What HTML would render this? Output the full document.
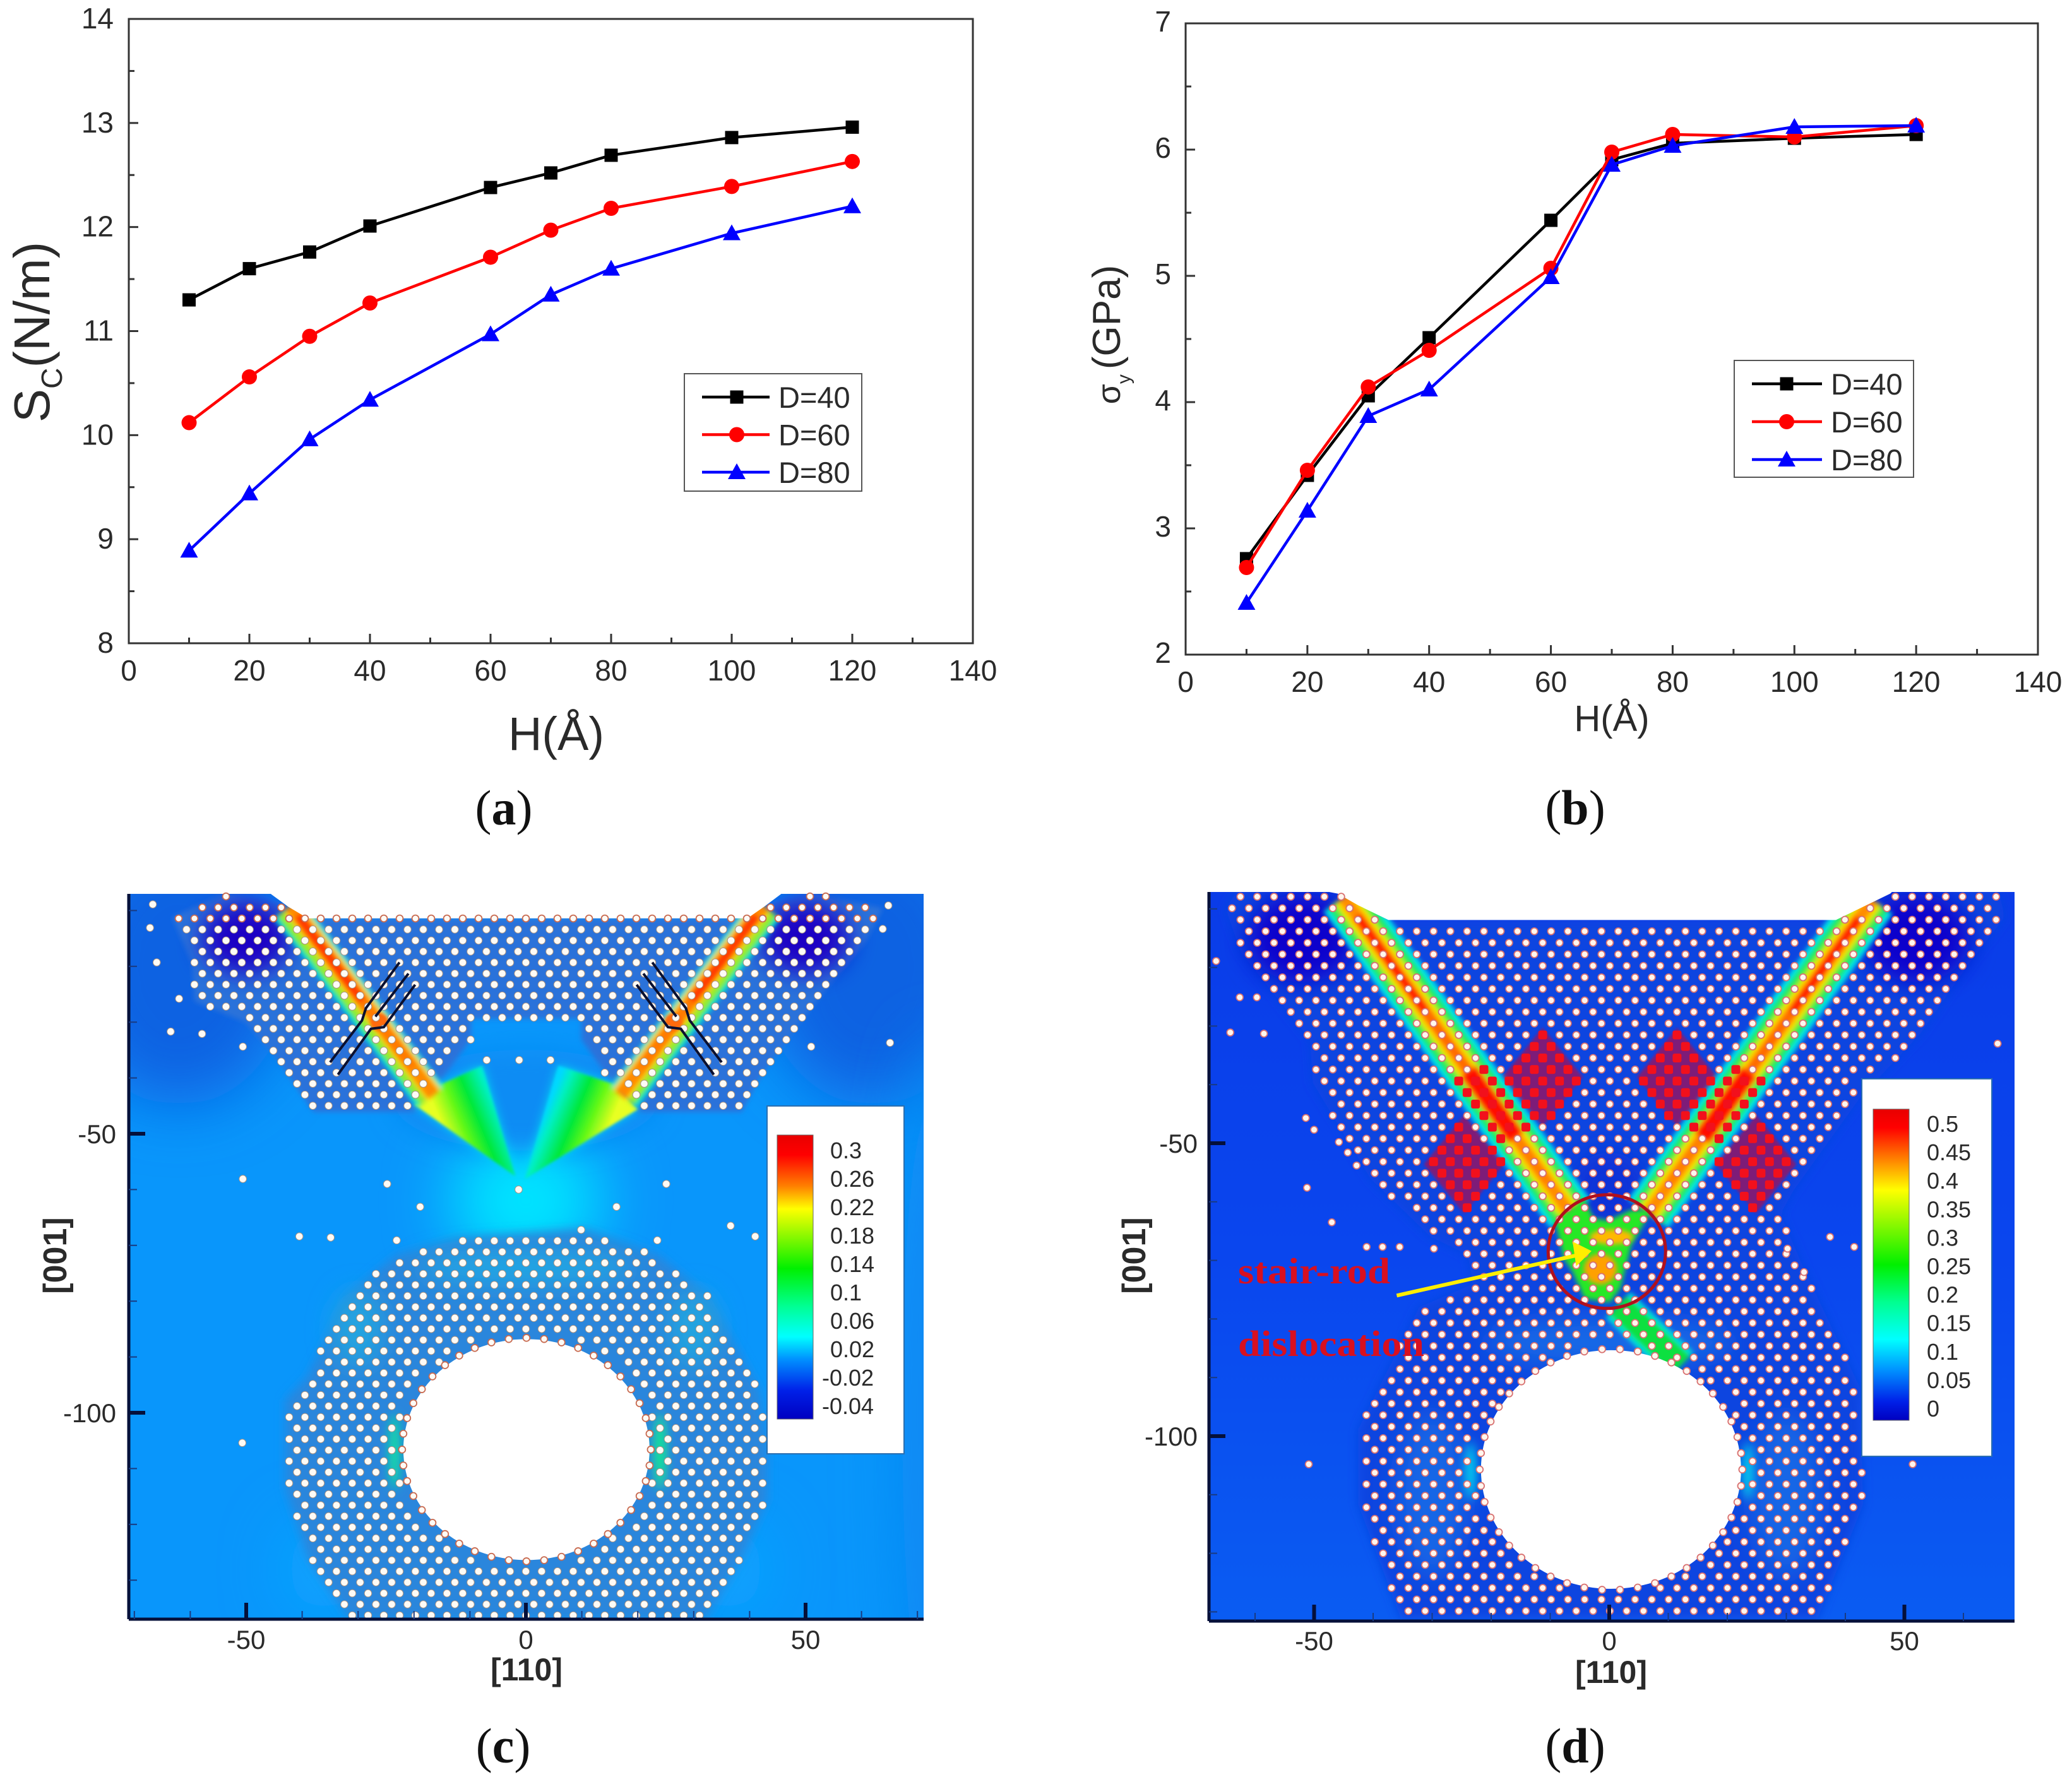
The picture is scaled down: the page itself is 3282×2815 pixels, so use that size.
<!DOCTYPE html>
<html lang="en">
<head>
<meta charset="utf-8">
<title>Four panel figure: critical stress, yield stress and strain contour maps</title>
<style>
html,body{margin:0;padding:0;background:#fff}
svg{display:block}
text{font-family:"Liberation Sans",sans-serif;fill:#2a2a2a}
.serif{font-family:"Liberation Serif",serif;fill:#111}
.bold{font-weight:bold}
</style>
</head>
<body>
<svg id="fig" xmlns="http://www.w3.org/2000/svg" width="3282" height="2815" viewBox="0 0 3282 2815">
<defs>
<filter id="b2" filterUnits="userSpaceOnUse" x="0" y="1300" width="3282" height="1400"><feGaussianBlur stdDeviation="2"/></filter>
<filter id="b4" filterUnits="userSpaceOnUse" x="0" y="1300" width="3282" height="1400"><feGaussianBlur stdDeviation="4"/></filter>
<filter id="b8" filterUnits="userSpaceOnUse" x="0" y="1300" width="3282" height="1400"><feGaussianBlur stdDeviation="8"/></filter>
<filter id="b20" filterUnits="userSpaceOnUse" x="0" y="1300" width="3282" height="1400"><feGaussianBlur stdDeviation="20"/></filter>
<filter id="b50" filterUnits="userSpaceOnUse" x="0" y="1300" width="3282" height="1400"><feGaussianBlur stdDeviation="50"/></filter>
<clipPath id="clipC"><rect x="204" y="1416" width="1259" height="1149"/></clipPath>
<clipPath id="clipD"><rect x="1915" y="1413" width="1276" height="1155"/></clipPath>
<linearGradient id="bgD" x1="0" y1="0" x2="0" y2="1">
<stop offset="0" stop-color="#0a3ce8"/><stop offset=".5" stop-color="#0a46ee"/><stop offset="1" stop-color="#0a5cf2"/>
</linearGradient>
<linearGradient id="cbC" x1="0" y1="0" x2="0" y2="1">
<stop offset="0" stop-color="#e80000"/><stop offset=".07" stop-color="#ff0000"/><stop offset=".18" stop-color="#ff8000"/><stop offset=".26" stop-color="#ffff00"/><stop offset=".47" stop-color="#00f000"/><stop offset=".60" stop-color="#00ff90"/><stop offset=".71" stop-color="#00ffff"/><stop offset=".79" stop-color="#0090ff"/><stop offset=".90" stop-color="#0020e8"/><stop offset="1" stop-color="#0000c0"/>
</linearGradient>
<linearGradient id="cbD" x1="0" y1="0" x2="0" y2="1">
<stop offset="0" stop-color="#e80000"/><stop offset=".06" stop-color="#ff0000"/><stop offset=".16" stop-color="#ff8000"/><stop offset=".26" stop-color="#ffff00"/><stop offset=".50" stop-color="#00f000"/><stop offset=".62" stop-color="#00ff90"/><stop offset=".74" stop-color="#00ffff"/><stop offset=".84" stop-color="#0090ff"/><stop offset=".94" stop-color="#0020e8"/><stop offset="1" stop-color="#0000c0"/>
</linearGradient>
<linearGradient id="fanL" gradientUnits="userSpaceOnUse" x1="680" y1="1735" x2="775" y2="1695">
<stop offset="0" stop-color="#e8ff20"/><stop offset=".3" stop-color="#60f818"/><stop offset=".55" stop-color="#00e838"/><stop offset=".85" stop-color="#00f0c0"/><stop offset="1" stop-color="#00d8ff"/>
</linearGradient>
<linearGradient id="fanR" gradientUnits="userSpaceOnUse" x1="986" y1="1735" x2="891" y2="1695">
<stop offset="0" stop-color="#e8ff20"/><stop offset=".3" stop-color="#60f818"/><stop offset=".55" stop-color="#00e838"/><stop offset=".85" stop-color="#00f0c0"/><stop offset="1" stop-color="#00d8ff"/>
</linearGradient>
</defs>

<rect x="0" y="0" width="3282" height="2815" fill="#fff"/>

<g id="panelA"></g>
<g id="panelB"></g>
<g id="panelC"></g>
<g id="panelD"></g>

<g>
<text transform="translate(78,526) rotate(-90)" text-anchor="middle" font-size="80">S<tspan font-size="46" dy="20">C</tspan><tspan dy="-20">(N/m)</tspan></text>
<text x="881" y="1188" text-anchor="middle" font-size="74">H(Å)</text>
<text transform="translate(1774,530) rotate(-90)" text-anchor="middle" font-size="62"><tspan font-size="52">σ</tspan><tspan font-size="30" dy="16">y</tspan><tspan dy="-16" dx="8">(GPa)</tspan></text>
<text x="2553" y="1158" text-anchor="middle" font-size="58">H(Å)</text>
<text class="bold" x="834" y="2662" text-anchor="middle" font-size="50">[110]</text>
<text class="bold" transform="translate(105,1989) rotate(-90)" text-anchor="middle" font-size="52">[001]</text>
<text class="bold" x="2552" y="2666" text-anchor="middle" font-size="50">[110]</text>
<text class="bold" transform="translate(1814,1989) rotate(-90)" text-anchor="middle" font-size="52">[001]</text>
</g>

<g>
<text class="serif" x="798" y="1306" text-anchor="middle" font-size="78">(<tspan class="bold">a</tspan>)</text>
<text class="serif" x="2495" y="1306" text-anchor="middle" font-size="78">(<tspan class="bold">b</tspan>)</text>
<text class="serif" x="797" y="2792" text-anchor="middle" font-size="78">(<tspan class="bold">c</tspan>)</text>
<text class="serif" x="2495" y="2792" text-anchor="middle" font-size="78">(<tspan class="bold">d</tspan>)</text>
</g>
</svg>

<script>
// ---------- line chart data ----------
const thicknessH = [10, 20, 30, 40, 60, 70, 80, 100, 120];
const scD40 = [11.3, 11.6, 11.76, 12.01, 12.38, 12.52, 12.69, 12.86, 12.96];
const scD60 = [10.12, 10.56, 10.95, 11.27, 11.71, 11.97, 12.18, 12.39, 12.63];
const scD80 = [8.89, 9.44, 9.96, 10.34, 10.97, 11.35, 11.6, 11.94, 12.2];
const sigmaD40 = [2.76, 3.42, 4.05, 4.51, 5.44, 5.92, 6.05, 6.09, 6.12];
const sigmaD60 = [2.69, 3.46, 4.12, 4.41, 5.06, 5.98, 6.12, 6.10, 6.19];
const sigmaD80 = [2.41, 3.14, 3.89, 4.10, 4.99, 5.88, 6.03, 6.18, 6.19];
const xTickLabels = [0, 20, 40, 60, 80, 100, 120, 140];
const xMinorTicks = [10, 30, 50, 70, 90, 110, 130];
const scTickLabels = [8, 9, 10, 11, 12, 13, 14];
const sigmaTickLabels = [2, 3, 4, 5, 6, 7];
const legendLabels = ['D=40', 'D=60', 'D=80'];
// ---------- colour bar labels ----------
const colorbarLabelsC = ['0.3', '0.26', '0.22', '0.18', '0.14', '0.1', '0.06', '0.02', '-0.02', '-0.04'];
const colorbarLabelsD = ['0.5', '0.45', '0.4', '0.35', '0.3', '0.25', '0.2', '0.15', '0.1', '0.05', '0'];
// ---------- contour map axis ticks (angstrom) ----------
const contourXMajor = [-50, 0, 50];
const contourYMajorC = [-50, -100];
const contourXMinor = [-70, -60, -40, -30, -20, -10, 10, 20, 30, 40, 60, 70];
const contourYMinor = [-10, -20, -30, -40, -60, -70, -80, -90, -110, -120, -130];
// ---------- atom regions and isolated atoms in [110],[001] coordinates ----------
const atomRegionTopC = [[-63.2,-11.2],[-54.1,-7],[-42.5,-9.3],[-39,-11.4],[39.6,-11.4],[42.6,-9.3],[51.7,-7],[63.8,-9.6],[60.8,-15.4],[54.7,-22.7],[48.2,-31],[41.6,-40.4],[38.6,-46.1],[20,-46.1],[15.4,-40.9],[9.9,-33.1],[9.9,-29.4],[-9.8,-29.4],[-9.8,-33.1],[-16.8,-42.5],[-19.9,-46.1],[-38,-46.1],[-45.1,-35.7],[-50.1,-30],[-59.2,-26.3],[-59.7,-19.5]];
const atomRegionRingC = [[-11.8,-68.6],[10.4,-67],[23.5,-71.7],[32.6,-79],[41.6,-95.7],[43.1,-106.1],[43.1,-115.5],[38.6,-125.9],[32.1,-136.9],[-31.5,-136.9],[-39,-125.9],[-43,-113.4],[-43,-97.8],[-39,-93.6],[-32,-79],[-22.9,-71.7]];
const isolatedAtomsC = [[-7,-36.8],[-1.2,-36.8],[4.4,-36.8],[-50.6,-34.4],[-63.5,-31.7],[-57.9,-32.1],[-62,-25.8],[-66,-19.3],[-66.7,-8.9],[-67.2,-13.1],[51,-34.4],[65.1,-33.7],[64.8,-9.1],[63.8,-13.3],[-50.6,-58.1],[-24.8,-59],[-1.3,-60],[-18.9,-63.1],[25.1,-59],[16.2,-63.1],[-40.5,-68.4],[-34.9,-68.6],[-23.1,-69.1],[23.5,-69.1],[36.6,-66.5],[41,-68.4],[-50.7,-105.4]];
const atomRegionD = [[-65,-9.9],[-63,-7],[-46,-7],[-42.5,-9.4],[-37.4,-11.9],[38.4,-11.9],[43.5,-9.4],[47.6,-7],[66,-7],[67,-11.4],[60.9,-19.4],[52.7,-31.3],[42.5,-42.2],[31.2,-58.1],[29,-62.1],[32.8,-71],[42.5,-91.8],[43,-111.7],[35.3,-131.1],[-35.3,-131.1],[-42.5,-111.7],[-42.5,-98.8],[-32.2,-78],[-23,-74],[-24,-69],[-30.2,-66],[-40.4,-56.1],[-50.2,-39.7],[-50.7,-32.3],[-62.4,-17.4]];
const isolatedAtomsD = [[-66.6,-18.9],[-62.6,-25.1],[-59.7,-25.1],[-64.2,-31.1],[-58.5,-31.3],[-51.4,-45.7],[-50,-47.7],[-45.8,-49.8],[-44.3,-51.6],[-42.8,-53.8],[-51.2,-57.6],[-47,-63.5],[-41.1,-67.7],[-38.4,-67.7],[-35.5,-67.7],[-29.7,-68],[37.4,-66],[41.5,-67.7],[30.2,-68],[33,-72],[65.8,-33],[-50.9,-104.8],[51.4,-104.8]];
const redDiamondsD = [[-11.3,-38.7],[-24.6,-53.6],[11.5,-38.7],[24.9,-53.6]];
const dislocationLeftC = [[[-22.6,-19.3],[-28.6,-27.5],[-29.3,-29.7],[-35,-37.2]],[[-21,-21.3],[-26.9,-29]],[[-19.8,-23.3],[-25.4,-30.9],[-27.7,-31.2],[-33.6,-39.4]]];

const NS = 'http://www.w3.org/2000/svg';
function mk(tag, attrs, parent) {
  const n = document.createElementNS(NS, tag);
  for (const k in attrs) n.setAttribute(k, attrs[k]);
  if (parent) parent.appendChild(n);
  return n;
}

// ---------- line charts ----------
function drawMarker(g, kind, x, y, color) {
  if (kind === 'square') {
    const m = mk('rect', {x: x - 10.5, y: y - 10.5, width: 21, height: 21, fill: color}, g);
    
    
  } else if (kind === 'circle') {
    const m = mk('circle', {cx: x, cy: y, r: 12, fill: color}, g);
    
    
  } else {
    const m = mk('polygon', {points: (x) + ',' + (y - 14) + ' ' + (x + 14) + ',' + (y + 11) + ' ' + (x - 14) + ',' + (y + 11), fill: color}, g);
    
    
  }
}
function drawLineChart(g, box, yTicks, series, legend, labelX, tickBaseX, yLabelShift) {
  const sx = v => box.l + (v - 0) / 140 * (box.r - box.l);
  const yMin = yTicks[0], yMax = yTicks[yTicks.length - 1];
  const sy = v => box.b - (v - yMin) / (yMax - yMin) * (box.b - box.t);
  const frame = mk('rect', {x: box.l, y: box.t, width: box.r - box.l, height: box.b - box.t, fill: 'none', stroke: '#333', 'stroke-width': 3}, g);
  
  
  xTickLabels.forEach(v => {
    const t = mk('line', {x1: sx(v), x2: sx(v), y1: box.b, y2: box.b - 15, stroke: '#333', 'stroke-width': 3}, g);
    
    
    const l = mk('text', {x: sx(v), y: labelX, 'text-anchor': 'middle', 'font-size': 46}, g);
    
    
    l.textContent = v;
  });
  xMinorTicks.forEach(v => {
    const t = mk('line', {x1: sx(v), x2: sx(v), y1: box.b, y2: box.b - 9, stroke: '#333', 'stroke-width': 3}, g);
    
    
  });
  yTicks.forEach((v, i) => {
    const t = mk('line', {x1: box.l, x2: box.l + 15, y1: sy(v), y2: sy(v), stroke: '#333', 'stroke-width': 3}, g);
    
    
    const l = mk('text', {x: tickBaseX, y: sy(v) + yLabelShift, 'text-anchor': 'end', 'font-size': 46}, g);
    
    
    l.textContent = v;
    if (i < yTicks.length - 1) {
      const m = mk('line', {x1: box.l, x2: box.l + 9, y1: sy(v + 0.5), y2: sy(v + 0.5), stroke: '#333', 'stroke-width': 3}, g);
      
      
    }
  });
  series.forEach(s => {
    const sg = mk('g', {}, g);
    
    
    const pts = thicknessH.map((h, i) => sx(h) + ',' + sy(s.values[i])).join(' ');
    const line = mk('polyline', {points: pts, fill: 'none', stroke: s.color, 'stroke-width': 4.5}, sg);
    
    
    thicknessH.forEach((h, i) => drawMarker(sg, s.kind, sx(h), sy(s.values[i]), s.color));
  });
  const lg = mk('g', {}, g);
  
  
  const lb = mk('rect', {x: legend.x, y: legend.y, width: legend.w, height: legend.h, fill: '#fff', stroke: '#555', 'stroke-width': 2}, lg);
  
  
  series.forEach((s, i) => {
    const y = legend.firstRow + i * legend.step;
    const ll = mk('line', {x1: legend.x + 28, x2: legend.x + 139 - legend.textPull, y1: y, y2: y, stroke: s.color, 'stroke-width': 4.5}, lg);
    
    
    drawMarker(lg, s.kind, legend.x + 83, y, s.color);
    const lt = mk('text', {x: legend.x + 153 - legend.textPull, y: y + 17, 'font-size': 47}, lg);
    
    
    lt.textContent = legendLabels[i];
  });
}
drawLineChart(document.getElementById('panelA'),
  {l: 204, r: 1541, t: 30, b: 1019}, scTickLabels,
  [{name: 'd40', values: scD40, color: '#000', kind: 'square'},
   {name: 'd60', values: scD60, color: '#f00', kind: 'circle'},
   {name: 'd80', values: scD80, color: '#00f', kind: 'triangle'}],
  {x: 1084, y: 592, w: 281, h: 186, firstRow: 629, step: 59.5, textPull: 4}, 1078, 180, 15);
drawLineChart(document.getElementById('panelB'),
  {l: 1878, r: 3228, t: 37, b: 1037}, sigmaTickLabels,
  [{name: 'd40', values: sigmaD40, color: '#000', kind: 'square'},
   {name: 'd60', values: sigmaD60, color: '#f00', kind: 'circle'},
   {name: 'd80', values: sigmaD80, color: '#00f', kind: 'triangle'}],
  {x: 2747, y: 571, w: 284, h: 185, firstRow: 608, step: 60, textPull: 0}, 1096, 1855, 13);

// ---------- contour helpers ----------
function inPoly(p, poly) {
  let c = false;
  for (let i = 0, j = poly.length - 1; i < poly.length; j = i++) {
    const a = poly[i], b = poly[j];
    if ((a[1] > p[1]) !== (b[1] > p[1]) && p[0] < (b[0] - a[0]) * (p[1] - a[1]) / (b[1] - a[1]) + a[0]) c = !c;
  }
  return c;
}
function polyPoints(poly, X, Y) { return poly.map(p => X(p[0]) + ',' + Y(p[1])).join(' '); }
function blob(g, X, Y, u, v, rx, ry, fill, filter, name) {
  const e = mk('ellipse', {cx: X(u), cy: Y(v), rx: rx, ry: ry, fill: fill, filter: 'url(#' + filter + ')'}, g);
  
  
  return e;
}
// one stripe of a shear band: stacked colour strokes, blurred
function band(g, X, Y, a, b, layers, name) {
  const grp = mk('g', {filter: 'url(#b4)'}, g);
  
  
  const x1 = X(a[0]), y1 = Y(a[1]), x2 = X(b[0]), y2 = Y(b[1]);
  const len = Math.hypot(x2 - x1, y2 - y1), nx = -(y2 - y1) / len, ny = (x2 - x1) / len;
  layers.forEach(l => {
    const t0 = l.from === undefined ? 0 : l.from, t1 = l.to === undefined ? 1 : l.to, off = l.off || 0;
    const ln = mk('line', {x1: x1 + (x2 - x1) * t0 + nx * off, y1: y1 + (y2 - y1) * t0 + ny * off, x2: x1 + (x2 - x1) * t1 + nx * off, y2: y1 + (y2 - y1) * t1 + ny * off, stroke: l.color, 'stroke-width': l.w}, grp);
    
    
  });
}
function contourAxes(g, box, X, Y, yMajor, tickX, labelBase) {
  const frameL = mk('line', {x1: box.l, x2: box.l, y1: box.t, y2: box.b, stroke: '#05103a', 'stroke-width': 5}, g);
  
  
  const frameB = mk('line', {x1: box.l, x2: box.r, y1: box.b, y2: box.b, stroke: '#05103a', 'stroke-width': 5}, g);
  
  
  contourXMajor.forEach(v => {
    const t = mk('line', {x1: X(v), x2: X(v), y1: box.b, y2: box.b - 26, stroke: '#05103a', 'stroke-width': 6}, g);
    
    
    const l = mk('text', {x: X(v), y: labelBase, 'text-anchor': 'middle', 'font-size': 42}, g);
    
    
    l.textContent = v;
  });
  contourXMinor.filter(v => X(v) > box.l + 2 && X(v) < box.r - 2).forEach(v => {
    const t = mk('line', {x1: X(v), x2: X(v), y1: box.b, y2: box.b - 13, stroke: '#1a3a80', 'stroke-width': 2}, g);
    
    
  });
  yMajor.forEach(v => {
    const t = mk('line', {x1: box.l, x2: box.l + 26, y1: Y(v), y2: Y(v), stroke: '#05103a', 'stroke-width': 6}, g);
    
    
    const l = mk('text', {x: tickX, y: Y(v) + 15, 'text-anchor': 'end', 'font-size': 42}, g);
    
    
    l.textContent = v;
  });
  contourYMinor.forEach(v => {
    const t = mk('line', {x1: box.l, x2: box.l + 13, y1: Y(v), y2: Y(v), stroke: '#1a3a80', 'stroke-width': 2}, g);
    
    
  });
}
function colorbar(g, panel, bar, grad, labels, baseY, step, xPos, xNeg) {
  const p = mk('rect', {x: panel.x, y: panel.y, width: panel.w, height: panel.h, fill: '#fff', stroke: '#2b6fb0', 'stroke-width': 2}, g);
  
  
  const b = mk('rect', {x: bar.x, y: bar.y, width: bar.w, height: bar.h, fill: 'url(#' + grad + ')', stroke: '#666', 'stroke-width': 1}, g);
  
  
  labels.forEach((s, i) => {
    const t = mk('text', {x: s.charAt(0) === '-' ? xNeg : xPos, y: baseY + i * step, 'font-size': 36}, g);
    
    
    t.textContent = s;
  });
}

// ---------- panel C ----------
(function () {
  const g = document.getElementById('panelC');
  const X = u => 833 + 8.86 * u, Y = v => 1354 - 8.84 * v;
  const field = mk('g', {'clip-path': 'url(#clipC)'}, g);
  
  
  const bg = mk('rect', {x: 204, y: 1416, width: 1259, height: 1149, fill: '#0996fb'}, field);
  
  
  blob(field, X, Y, -62, -20, 180, 220, '#0a62e2', 'b50', 'left-corner-shade');
  blob(field, X, Y, 62, -20, 180, 220, '#0a62e2', 'b50', 'right-corner-shade');
  blob(field, X, Y, 74, -100, 60, 600, '#0a86f2', 'b50', 'right-edge-shade');
  blob(field, X, Y, -36, -128, 60, 70, '#0ea8ff', 'b50', 'lower-left-glow');
  blob(field, X, Y, 36, -128, 60, 70, '#0ea8ff', 'b50', 'lower-right-glow');
  blob(field, X, Y, 0, -62, 120, 110, '#00e4ff', 'b50', 'centre-glow');
  blob(field, X, Y, 0, -44, 210, 80, '#0a8cf4', 'b20', 'upper-gap-shade');
  const topReg = mk('polygon', {points: polyPoints(atomRegionTopC, X, Y), fill: '#2c72da', filter: 'url(#b4)'}, field);
  
  
  const ringReg = mk('polygon', {points: polyPoints(atomRegionRingC, X, Y), fill: '#2c86dc', filter: 'url(#b8)'}, field);
  
  
  blob(field, X, Y, 0, -74, 170, 26, '#22a8e4', 'b20', 'ring-top-tint');
  blob(field, X, Y, -30, -85, 40, 60, '#22a4e0', 'b20', 'ring-left-tint');
  blob(field, X, Y, 30, -85, 40, 60, '#22a4e0', 'b20', 'ring-right-tint');
  blob(field, X, Y, -50, -15, 70, 55, '#1c00c4', 'b20', 'left-compression-spot');
  blob(field, X, Y, 50, -15, 70, 55, '#1c00c4', 'b20', 'right-compression-spot');
  blob(field, X, Y, -23.5, -107, 8, 60, '#10e8a0', 'b8', 'hole-left-strain');
  blob(field, X, Y, 24, -107, 9, 60, '#18f090', 'b8', 'hole-right-strain');
  [[[-19.9,-44.8],[-16.3,-41.7],[-7.8,-37.8],[-1.9,-57.6]], [[20,-45.6],[15.9,-41.2],[5.8,-37.8],[-0.2,-58.1]]].forEach((f, i) => {
    const under = mk('polygon', {points: polyPoints(f, X, Y), fill: '#00d8f4', filter: 'url(#b8)'}, field);
    
    
    const fan = mk('polygon', {points: polyPoints(f, X, Y), fill: i ? 'url(#fanR)' : 'url(#fanL)', filter: 'url(#b2)'}, field);
    
    
  });
  const layersC = s => [
    {color: '#00e8e0', w: 54},
    {color: '#10e840', w: 44},
    {color: '#ffe400', w: 30, off: s * 6},
    {color: '#c8f010', w: 4, off: -s * 15},
    {color: '#ff8a00', w: 22, off: s * 6},
    {color: '#ff3a00', w: 16, off: s * 6, from: .05, to: .5},
    {color: '#ff7a00', w: 18, off: s * 6, from: .5, to: .85}
  ];
  band(field, X, Y, [-42.6, -9.6], [-17, -43.5], layersC(-1), 'left-shear-band');
  band(field, X, Y, [43, -9.6], [17.4, -43.5], layersC(1), 'right-shear-band');
  blob(field, X, Y, -26.2, -30, 14, 14, '#ff6a10', 'b2', 'left-junction-spot');
  blob(field, X, Y, 26.4, -30, 14, 14, '#ff6a10', 'b2', 'right-junction-spot');
  const white = mk('polygon', {points: polyPoints([[-47,-6],[-42.5,-9.3],[-39,-11.4],[39.6,-11.4],[42.6,-9.3],[47,-6]], X, Y), fill: '#fff'}, field);
  
  
  const hole = mk('ellipse', {cx: X(0.1), cy: Y(-106.6), rx: 195, ry: 175, fill: '#fff'}, field);
  
  
  const atoms = mk('g', {}, g);
  
  
  function atom(x, y, rim) {
    const a = mk('circle', {cx: x, cy: y, r: rim ? 5.4 : 5.8, fill: '#fdfbf6', stroke: rim ? '#c86a50' : '#a89080', 'stroke-width': rim ? 1.8 : 1}, atoms);
    
    
  }
  const outside = (u, v) => Math.hypot((X(u) - X(0.1)) / 197, (Y(v) - Y(-106.6)) / 177) > 1.05;
  for (let k = -2; k <= 18; k++) {
    const y = 1455 + 17.45 * k;
    for (let j = -30; j <= 30; j++) {
      const x = 833 + 25 * j + (Math.abs(k) % 2 ? 12.5 : 0), u = (x - 833) / 8.86, v = (1354 - y) / 8.84;
      if (inPoly([u, v], atomRegionTopC)) atom(x, y, k <= 0);
    }
  }
  for (let k = 0; k <= 36; k++) {
    const y = 2559 - 17.45 * k;
    for (let j = -20; j <= 20; j++) {
      const x = 833 + 25 * j + (k % 2 ? 12.5 : 0), u = (x - 833) / 8.86, v = (1354 - y) / 8.84;
      if (inPoly([u, v], atomRegionRingC) && outside(u, v) && x < 1212) atom(x, y, false);
    }
  }
  for (let i = 0; i < 44; i++) {
    const th = i / 44 * Math.PI * 2;
    atom(X(0.1) + 197 * Math.cos(th), Y(-106.6) + 177 * Math.sin(th), true);
  }
  isolatedAtomsC.forEach(p => atom(X(p[0]), Y(p[1]), false));
  dislocationLeftC.forEach(line => {
    [1, -1].forEach(s => {
      const pl = mk('polyline', {points: line.map(p => X(s * p[0]) + ',' + Y(p[1])).join(' '), fill: 'none', stroke: '#0a1030', 'stroke-width': 4}, g);
      
      
    });
  });
  colorbar(g, {x: 1215, y: 1752, w: 217, h: 551}, {x: 1231, y: 1798, w: 57, h: 450}, 'cbC', colorbarLabelsC, 1835, 45, 1315, 1302);
  contourAxes(g, {l: 204, r: 1463, t: 1416, b: 2565}, X, Y, contourYMajorC, 184, 2612);
})();

// ---------- panel D ----------
(function () {
  const g = document.getElementById('panelD');
  const X = u => 2549 + 9.35 * u, Y = v => 1347 - 9.28 * v;
  const field = mk('g', {'clip-path': 'url(#clipD)'}, g);
  
  
  const bg = mk('rect', {x: 1915, y: 1413, width: 1276, height: 1155, fill: 'url(#bgD)'}, field);
  
  
  const reg = mk('polygon', {points: polyPoints(atomRegionD, X, Y), fill: '#0d44e0', filter: 'url(#b8)'}, field);
  
  
  blob(field, X, Y, -30, -110, 55, 130, '#1466e6', 'b20', 'ring-left-tint');
  blob(field, X, Y, 30, -110, 55, 130, '#1466e6', 'b20', 'ring-right-tint');
  blob(field, X, Y, 0, -84, 200, 40, '#1268e6', 'b20', 'ring-top-tint');
  blob(field, X, Y, -52, -15, 85, 70, '#0e00cc', 'b20', 'left-compression-spot');
  blob(field, X, Y, 52, -15, 85, 70, '#0e00cc', 'b20', 'right-compression-spot');
  blob(field, X, Y, 0, -58, 60, 60, '#0830d8', 'b20', 'junction-top-shade');
  blob(field, X, Y, -23.5, -106, 8, 45, '#00e0f0', 'b8', 'hole-left-strain');
  blob(field, X, Y, 23.5, -106, 8, 45, '#00e0f0', 'b8', 'hole-right-strain');
  redDiamondsD.forEach(c => {
    const d = mk('polygon', {points: polyPoints([[c[0] - 6.8, c[1]], [c[0], c[1] + 8.4], [c[0] + 6.8, c[1]], [c[0], c[1] - 8.4]], X, Y), fill: '#7e1c78', filter: 'url(#b2)'}, field);
    
    
  });
  const layersD = [
    {color: '#00e8ee', w: 78},
    {color: '#12e85c', w: 62},
    {color: '#7cf010', w: 42},
    {color: '#ffe400', w: 32},
    {color: '#ff8c00', w: 20},
    {color: '#ff2400', w: 16, from: .06, to: .36},
    {color: '#ff6a00', w: 16, from: .36, to: .55},
    {color: '#ff1000', w: 30, from: .55, to: .76},
    {color: '#ff8000', w: 18, from: .76, to: .9}
  ];
  const bandStartL = [-45, -8], bandEndL = [-6.6, -62], bandStartR = [44.6, -8.4], bandEndR = [6.6, -62];
  band(field, X, Y, bandStartL, bandEndL, layersD, 'left-shear-band');
  band(field, X, Y, bandStartR, bandEndR, layersD, 'right-shear-band');
  band(field, X, Y, [1.5, -77.6], [12.2, -87.9], [{color: '#00e8e0', w: 56}, {color: '#10e040', w: 42}], 'lower-shear-band');
  const junction = mk('polygon', {points: polyPoints([[-9.2,-63.2],[-4.2,-59.6],[-2.7,-62.8],[-0.2,-63.2],[3.7,-61.4],[7.2,-61.4],[3.7,-67.5],[1.9,-74.7],[0.1,-77.2],[-4.2,-76.5],[-6.3,-71.8],[-7.7,-69.7]], X, Y), fill: '#28e828', filter: 'url(#b4)'}, field);
  
  
  blob(field, X, Y, 0.4, -66, 34, 12, '#ffb800', 'b4', 'junction-hot-spot-upper');
  blob(field, X, Y, -1.5, -71.5, 26, 24, '#ffa000', 'b4', 'junction-hot-spot-lower');
  const white = mk('polygon', {points: polyPoints([[-48,-7],[-46,-7.4],[-42.5,-9.4],[-37.4,-11.9],[38.4,-11.9],[43.5,-9.4],[47.6,-7.4],[48,-7]], X, Y), fill: '#fff'}, field);
  
  
  const hole = mk('ellipse', {cx: X(0.3), cy: Y(-105.7), rx: 206, ry: 189, fill: '#fff'}, field);
  
  
  const atoms = mk('g', {}, g);
  
  
  function atom(x, y, red) {
    if (red) {
      const r = mk('rect', {x: x - 7, y: y - 7, width: 14, height: 14, rx: 3, fill: '#f2101c'}, atoms);
      
      
    } else {
      const a = mk('circle', {cx: x, cy: y, r: 5.4, fill: '#fff6ee', stroke: '#d87070', 'stroke-width': 1.8}, atoms);
      
      
    }
  }
  // atoms lying on the hottest stretch of a shear band core render red too
  function onCore(x, y, a, b) {
    const x1 = X(a[0]), y1 = Y(a[1]), x2 = X(b[0]), y2 = Y(b[1]);
    const dx = x2 - x1, dy = y2 - y1, l2 = dx * dx + dy * dy;
    const t = ((x - x1) * dx + (y - y1) * dy) / l2;
    const d = Math.abs((x - x1) * dy - (y - y1) * dx) / Math.sqrt(l2);
    return t > .55 && t < .76 && d < 30;
  }
  const outside = (u, v) => Math.hypot((X(u) - X(0.3)) / 208, (Y(v) - Y(-105.7)) / 191) > 1.05;
  for (let k = -2; k <= 60; k++) {
    const y = 1457 + 18.25 * k;
    for (let j = -30; j <= 30; j++) {
      const x = 2550 + 26.6 * j + (Math.abs(k) % 2 ? 13.3 : 0), u = (x - 2549) / 9.35, v = (1347 - y) / 9.28;
      if (!inPoly([u, v], atomRegionD) || !outside(u, v) || (x > 2946 && y > 1709 && y < 2307)) continue;
      const red = redDiamondsD.some(c => Math.abs(u - c[0]) / 6.8 + Math.abs(v - c[1]) / 8.4 < 1) || onCore(x, y, bandStartL, bandEndL) || onCore(x, y, bandStartR, bandEndR);
      atom(x, y, red);
    }
  }
  for (let i = 0; i < 46; i++) {
    const th = i / 46 * Math.PI * 2;
    atom(X(0.3) + 208 * Math.cos(th), Y(-105.7) + 191 * Math.sin(th), false);
  }
  isolatedAtomsD.forEach(p => atom(X(p[0]), Y(p[1]), false));
  const ring = mk('ellipse', {cx: X(-0.4), cy: Y(-68.5), rx: 93, ry: 90, fill: 'none', stroke: '#b0101e', 'stroke-width': 5}, g);
  
  
  const arrow = mk('line', {x1: X(-36), y1: Y(-76), x2: X(-4.5), y2: Y(-68.9), stroke: '#ffee00', 'stroke-width': 6}, g);
  
  
  const head = mk('polygon', {points: polyPoints([[-3,-68.4],[-6.2,-66.8],[-5.6,-71]], X, Y), fill: '#ffee00'}, g);
  
  
  const t1 = mk('text', {class: 'serif bold', x: 1961, y: 2033, 'font-size': 58, textLength: 241, lengthAdjust: 'spacingAndGlyphs', style: 'fill:#d81020'}, g);
  
  
  t1.textContent = 'stair-rod';
  const t2 = mk('text', {class: 'serif bold', x: 1961, y: 2148, 'font-size': 58, textLength: 295, lengthAdjust: 'spacingAndGlyphs', style: 'fill:#d81020'}, g);
  
  
  t2.textContent = 'dislocation';
  colorbar(g, {x: 2949, y: 1709, w: 206, h: 598}, {x: 2967, y: 1757, w: 57, h: 493}, 'cbD', colorbarLabelsD, 1793, 45.1, 3052, 3052);
  contourAxes(g, {l: 1915, r: 3191, t: 1413, b: 2568}, X, Y, contourYMajorC, 1897, 2614);
})();
</script>
</body>
</html>
